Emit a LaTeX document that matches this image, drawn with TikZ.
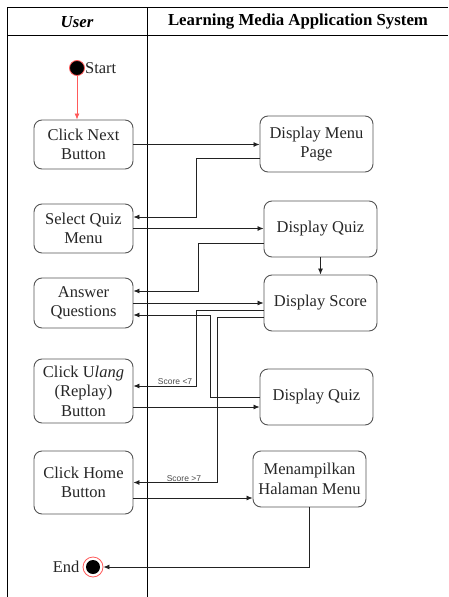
\documentclass[tikz,border=0pt]{standalone}
\usepackage{fontspec}
\setmainfont{Liberation Serif}
\newfontfamily\labelfont{Liberation Sans}
\usetikzlibrary{arrows.meta,calc}
\definecolor{edgegray}{HTML}{222222}
\definecolor{boxgray}{HTML}{555555}
\definecolor{startred}{HTML}{FF5A5A}
\tikzset{
  actbox/.style={draw=boxgray, line width=0.9pt, rounded corners=8pt, align=center,
    font=\fontsize{16.5}{19.5}\selectfont, text=black!85, inner sep=2pt},
  flow/.style={draw=edgegray, line width=0.8pt, -{Latex[length=6pt,width=5pt]}},
  guard/.style={font=\labelfont\fontsize{8.5}{9}\selectfont, text=black!70, inner sep=1pt},
  lane/.style={draw=black, line width=1pt},
  headtext/.style={font=\fontsize{16.8}{19.5}\selectfont\bfseries},
}
\begin{document}
\begin{tikzpicture}[x=1pt,y=-1pt]
\useasboundingbox (0,0) rectangle (448,597);
% swimlane frame
\draw[lane] (7,597) -- (7,7) -- (448,7);
\draw[lane] (7,35) -- (448,35);
\draw[lane] (147,7) -- (147,597);
\node[headtext] (hUser) at (77,22) {\itshape User};
\node[headtext] (hSys) at (298,22) {Learning Media Application System};

% start node
\node[circle, fill=black, draw=startred, line width=0.8pt, minimum size=15pt, inner sep=0] (start) at (77,68) {};
\node[anchor=west, font=\fontsize{16.5}{19.5}\selectfont, inner sep=0, text=black!85] (startlbl) at (start.east) {Start};

% user lane
\node[actbox, minimum width=99pt, minimum height=49pt] (cnb) at (83.5,144.5) {Click Next\\Button};
\node[actbox, minimum width=99pt, minimum height=49pt] (sqm) at (83.5,228.5) {Select Quiz\\Menu};
\node[actbox, minimum width=99pt, minimum height=50pt] (aq) at (83.5,303) {Answer\\Questions};
\node[actbox, minimum width=99pt, minimum height=64pt] (cu) at (83.5,391) {Click U\textit{lang}\\(Replay)\\Button};
\node[actbox, minimum width=99pt, minimum height=63pt] (ch) at (83.5,482.5) {Click Home\\Button};

% system lane
\node[actbox, minimum width=113pt, minimum height=56pt] (dmp) at (316.5,144) {Display Menu\\Page};
\node[actbox, minimum width=113pt, minimum height=56pt] (dq1) at (320.5,229) {Display Quiz};
\node[actbox, minimum width=113pt, minimum height=56pt] (ds) at (320.5,303) {Display Score};
\node[actbox, minimum width=113pt, minimum height=56pt] (dq2) at (316.5,397) {Display Quiz};
\node[actbox, minimum width=113pt, minimum height=56pt] (mhm) at (309.5,479) {Menampilkan\\Halaman Menu};

% end node
\node[circle, draw=startred, line width=0.8pt, minimum size=20pt, inner sep=0] (end) at (93,567) {};
\node[circle, fill=black, minimum size=14pt, inner sep=0] (endcore) at (end.center) {};
\node[anchor=east, font=\fontsize{16.5}{19.5}\selectfont, inner sep=0, text=black!85] (endlbl) at ([xshift=-3pt]end.west) {End};

% control flow
\draw[flow, draw=startred, -{Latex[length=6pt,width=5pt]}] (start.south) -- (start.south |- cnb.north);
\draw[flow] (cnb.east) -- (cnb.east -| dmp.west);
\draw[flow] ([yshift=-14pt]dmp.west) -- ++(-63,0) |- ([yshift=11.5pt]sqm.east);
\draw[flow] (sqm.east) -- (sqm.east -| dq1.west);
\draw[flow] ([yshift=-14pt]dq1.west) -- ++(-65,0) |- ([yshift=12pt]aq.east);
\draw[flow] (dq1.south) -- (ds.north);
\draw[flow] (aq.east) -- (ds.west);
\draw[flow] ([yshift=-7pt]ds.west) -- ++(-67,0) |- ([yshift=5pt]cu.east)
  node[guard, pos=0.67, above] (lt7) {Score <7};
\draw[flow] (dq2.west) -- ++(-49,0) |- ([yshift=-12pt]aq.east);
\draw[flow] ([yshift=-14pt]ds.west) -- ++(-46,0) |- (ch.east)
  node[guard, pos=0.70, above] (gt7) {Score >7};
\draw[flow] ([yshift=-16pt]cu.east) -- ([yshift=-16pt]cu.east -| dq2.west);
\draw[flow] ([yshift=-15.5pt]ch.east) -- ([yshift=-15.5pt]ch.east -| mhm.west);
\draw[flow] (mhm.south) |- (end.east);
\end{tikzpicture}
\end{document}
